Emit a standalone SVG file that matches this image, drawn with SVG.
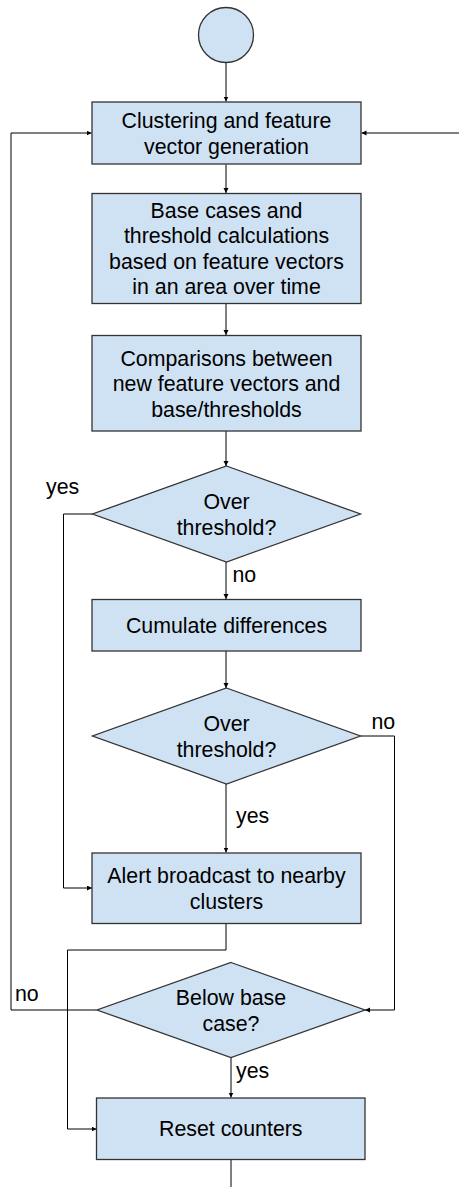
<svg xmlns="http://www.w3.org/2000/svg" width="459" height="1187" viewBox="0 0 459 1187">
  <style>
    .shape { fill: #cfe2f3; stroke: #333333; stroke-width: 1.3; }
    .edge { fill: none; stroke: #000000; stroke-width: 1; }
    .lbl { font-family: "Liberation Sans", Arial, sans-serif; font-size: 21.33px; fill: #000000; }
    .mid { text-anchor: middle; }
  </style>
  <defs>
    <marker id="arrow" markerUnits="userSpaceOnUse" markerWidth="6" markerHeight="6" refX="5" refY="2.5" orient="auto">
      <path d="M0,0 L5,2.5 L0,5 z" fill="#000000"/>
    </marker>
  </defs>

  <rect width="459" height="1187" fill="#ffffff"/>

  <!-- connectors -->
  <g id="connectors">
    <path class="edge" d="M226,62.5 V101.5" marker-end="url(#arrow)"/>
    <path class="edge" d="M226,164.5 V193" marker-end="url(#arrow)"/>
    <path class="edge" d="M226,303.5 V335" marker-end="url(#arrow)"/>
    <path class="edge" d="M226,431 V466" marker-end="url(#arrow)"/>
    <path class="edge" d="M226,562 V599" marker-end="url(#arrow)"/>
    <path class="edge" d="M226,651 V688" marker-end="url(#arrow)"/>
    <path class="edge" d="M226,784 V852.5" marker-end="url(#arrow)"/>
    <path class="edge" d="M92.5,514 H63.5 V888 H92" marker-end="url(#arrow)"/>
    <path class="edge" d="M360.5,736 H394.5 V1010 H365" marker-end="url(#arrow)"/>
    <path class="edge" d="M226,923.5 V950 H67.5 V1129 H96.5" marker-end="url(#arrow)"/>
    <path class="edge" d="M96.5,1010 H11 V133 H91.5" marker-end="url(#arrow)"/>
    <path class="edge" d="M459,133 H361.5" marker-end="url(#arrow)"/>
    <path class="edge" d="M231,1058 V1097.5" marker-end="url(#arrow)"/>
    <path class="edge" d="M231,1159.5 V1187"/>
    <text class="lbl" x="46" y="494">yes</text>
    <text class="lbl" x="232.5" y="581.5">no</text>
    <text class="lbl" x="371.5" y="729">no</text>
    <text class="lbl" x="236" y="822.5">yes</text>
    <text class="lbl" x="15" y="1000.5">no</text>
    <text class="lbl" x="236" y="1078">yes</text>
  </g>

  <!-- start -->
  <g id="start">
    <circle class="shape" cx="226" cy="35" r="27.5"/>
  </g>

  <g id="clustering">
    <rect class="shape" x="92" y="102" width="269" height="62"/>
    <text class="lbl mid" x="226.5" y="128">Clustering and feature</text>
    <text class="lbl mid" x="226.5" y="153.5">vector generation</text>
  </g>

  <g id="base-cases">
    <rect class="shape" x="92" y="193.5" width="269" height="110"/>
    <text class="lbl mid" x="226.5" y="217.8">Base cases and</text>
    <text class="lbl mid" x="226.5" y="243.3">threshold calculations</text>
    <text class="lbl mid" x="226.5" y="268.8">based on feature vectors</text>
    <text class="lbl mid" x="226.5" y="294.3">in an area over time</text>
  </g>

  <g id="comparisons">
    <rect class="shape" x="92" y="335.5" width="269" height="95.5"/>
    <text class="lbl mid" x="226.5" y="365.5">Comparisons between</text>
    <text class="lbl mid" x="226.5" y="391">new feature vectors and</text>
    <text class="lbl mid" x="226.5" y="416.5">base/thresholds</text>
  </g>

  <g id="over-threshold-1">
    <polygon class="shape" points="226.5,466 360.5,514 226.5,562 92.5,514"/>
    <text class="lbl mid" x="226.5" y="509">Over</text>
    <text class="lbl mid" x="226.5" y="534.5">threshold?</text>
  </g>

  <g id="cumulate">
    <rect class="shape" x="92" y="599.5" width="269" height="51.5"/>
    <text class="lbl mid" x="226.5" y="633">Cumulate differences</text>
  </g>

  <g id="over-threshold-2">
    <polygon class="shape" points="226.5,688 360.5,736 226.5,784 92.5,736"/>
    <text class="lbl mid" x="226.5" y="731">Over</text>
    <text class="lbl mid" x="226.5" y="756.5">threshold?</text>
  </g>

  <g id="alert">
    <rect class="shape" x="92" y="853" width="269" height="70.5"/>
    <text class="lbl mid" x="226.5" y="883">Alert broadcast to nearby</text>
    <text class="lbl mid" x="226.5" y="908.5">clusters</text>
  </g>

  <g id="below-base">
    <polygon class="shape" points="231,962.5 365,1010 231,1057.5 97,1010"/>
    <text class="lbl mid" x="231" y="1005">Below base</text>
    <text class="lbl mid" x="231" y="1030.5">case?</text>
  </g>

  <g id="reset">
    <rect class="shape" x="96.5" y="1098" width="268.5" height="61.5"/>
    <text class="lbl mid" x="230.8" y="1136">Reset counters</text>
  </g>
</svg>
